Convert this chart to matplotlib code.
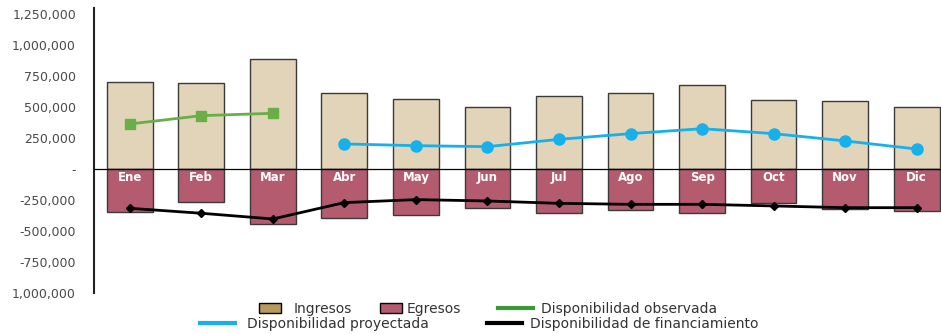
import matplotlib

matplotlib.use("Agg")
import matplotlib.pyplot as plt
from matplotlib.lines import Line2D
from matplotlib.patches import Patch
from matplotlib.ticker import FixedLocator

# monthly figures
meses = ["Ene", "Feb", "Mar", "Abr", "May", "Jun", "Jul", "Ago", "Sep", "Oct", "Nov", "Dic"]
ingresos = [702000, 691000, 887000, 610000, 562000, 500000, 591000, 613000, 680000, 556000, 548000, 500000]
egresos = [-347000, -264000, -444000, -395000, -371000, -317000, -357000, -331000, -352000, -271000, -323000, -336000]
disp_observada = [363000, 430000, 449000]  # Ene-Mar
disp_proyectada = [202000, 188000, 180000, 239000, 285000, 325000, 285000, 226000, 161000]  # Abr-Dic
disp_financiamiento = [-317000, -357000, -403000, -271000, -247000, -258000, -277000, -285000,
                       -285000, -298000, -312000, -312000]

yticks = [1250000, 1000000, 750000, 500000, 250000, 0, -250000, -500000, -750000, -1000000]
ytick_labels = ["1,250,000", "1,000,000", "750,000", "500,000", "250,000", "-",
                "-250,000", "-500,000", "-750,000", "1,000,000"]

C_ING = "#e2d4b8"
C_ING_LEG = "#b99a5e"
C_EGR = "#b45b70"
C_OBS = "#6aae47"
C_OBS_LEG = "#3a9a3a"
C_PROY = "#18b0ea"
EDGE = "#3a3a3a"

plt.rcParams["font.family"] = ["DejaVu Sans"]

fig = plt.figure(figsize=(9.41, 3.34), dpi=100)
ax = fig.add_axes([94 / 941, 1 - 293 / 334, (941 - 94) / 941, (293 - 8) / 334])

x = list(range(len(meses)))
ax.bar(x, ingresos, width=0.64, color=C_ING, edgecolor=EDGE, linewidth=1.0, zorder=2)
ax.bar(x, egresos, width=0.64, color=C_EGR, edgecolor=EDGE, linewidth=1.0, zorder=2)
ax.axhline(0, color="black", lw=0.9, zorder=3)

for xi, m in zip(x, meses):
    ax.text(xi, -65000, m, ha="center", va="center", color="white",
            fontsize=8.5, fontweight="bold", zorder=4)

ax.plot(x[:3], disp_observada, color=C_OBS, lw=2, marker="s", ms=7.5, zorder=5)
ax.plot(x[3:], disp_proyectada, color=C_PROY, lw=2, marker="o", ms=8, zorder=5)
ax.plot(x, disp_financiamiento, color="black", lw=2, marker="D", ms=4.5, zorder=5)

ax.set_xlim(-0.5, 11.34)
ax.set_ylim(-1000000, 1298000)
ax.set_xticks([])
ax.yaxis.set_major_locator(FixedLocator(yticks))
ax.set_yticklabels(ytick_labels)
ax.tick_params(axis="y", length=0, pad=13, labelsize=9, labelcolor="#4a4a4a")

for s in ["top", "right", "bottom"]:
    ax.spines[s].set_visible(False)
ax.spines["left"].set_linewidth(1.5)
ax.spines["left"].set_color("#222222")

# legend entries placed one by one (two uneven rows as in the original)
entries = [
    (Patch(facecolor=C_ING_LEG, edgecolor="black", label="Ingresos"), 259, 309, 1.6, 0.9),
    (Patch(facecolor=C_EGR, edgecolor="black", label="Egresos"), 380, 309, 1.6, 0.3),
    (Line2D([], [], color=C_OBS_LEG, lw=3, label="Disponibilidad observada"), 498, 309, 2.5, 0.6),
    (Line2D([], [], color=C_PROY, lw=3, label="Disponibilidad proyectada"), 200, 324, 2.5, 0.85),
    (Line2D([], [], color="black", lw=3, label="Disponibilidad de financiamiento"), 487, 324, 2.5, 0.6),
]
for h, x0, y0, hl, pad in entries:
    fig.legend(handles=[h], loc="center left", bbox_to_anchor=(x0 / 941, 1 - y0 / 334),
               frameon=False, fontsize=10, handlelength=hl, handleheight=0.75,
               handletextpad=pad, borderpad=0, borderaxespad=0, labelcolor="#333333")

fig.savefig("out.png", dpi=100)
